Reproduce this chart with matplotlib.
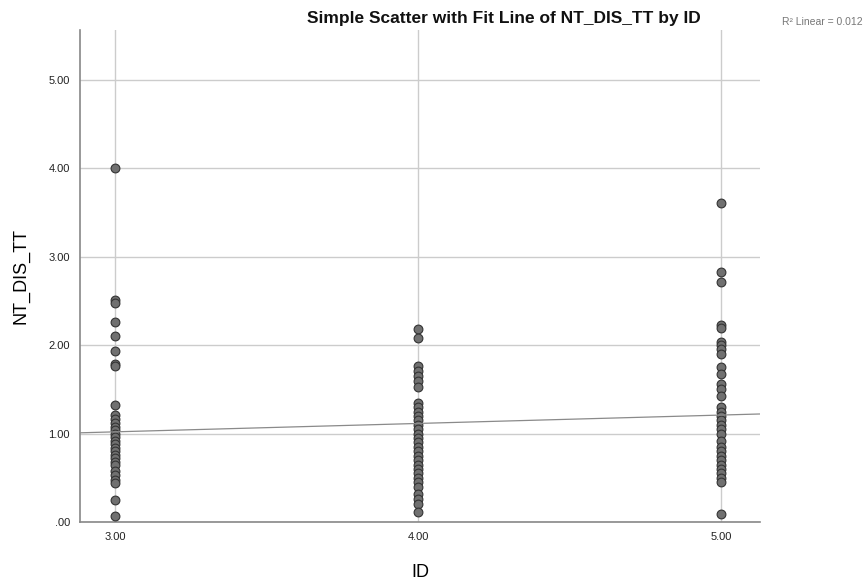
import numpy as np
import matplotlib
matplotlib.use('Agg')
import matplotlib.pyplot as plt

plt.rcParams['font.family'] = ['Liberation Sans', 'DejaVu Sans']

# NT_DIS_TT values for each ID group
id3 = [4.01, 2.51, 2.48, 2.26, 2.10, 1.94, 1.79, 1.77, 1.32, 1.21, 1.17, 1.12,
       1.08, 1.04, 1.00, 0.96, 0.92, 0.88, 0.84, 0.80, 0.76, 0.72, 0.68, 0.64,
       0.58, 0.53, 0.48, 0.44, 0.25, 0.07]
id4 = [2.18, 2.08, 1.76, 1.71, 1.65, 1.60, 1.53, 1.35, 1.30, 1.25, 1.20, 1.15,
       1.10, 1.05, 1.00, 0.95, 0.90, 0.85, 0.80, 0.75, 0.70, 0.65, 0.60, 0.55,
       0.50, 0.45, 0.40, 0.32, 0.26, 0.20, 0.11]
id5 = [3.61, 2.83, 2.71, 2.23, 2.19, 2.04, 2.00, 1.96, 1.90, 1.75, 1.68, 1.56,
       1.50, 1.43, 1.30, 1.25, 1.20, 1.15, 1.10, 1.05, 1.00, 0.92, 0.85, 0.80,
       0.75, 0.70, 0.65, 0.60, 0.55, 0.50, 0.45, 0.09]

# linear fit line (intercept at ID=0, slope)
fit_intercept = 0.735
fit_slope = 0.095
r2_text = 'R\u00b2 Linear = 0.012'

x = np.concatenate([np.full(len(id3), 3.0), np.full(len(id4), 4.0), np.full(len(id5), 5.0)])
y = np.array(id3 + id4 + id5)

fig = plt.figure(figsize=(8.67, 5.83), dpi=100)
ax = fig.add_axes([0.092, 0.1046, 0.785, 0.844])

xlim = (2.884, 5.129)
ax.set_xlim(*xlim)
ax.set_ylim(0, 5.566)

ax.set_xticks([3, 4, 5])
ax.set_xticklabels(['3.00', '4.00', '5.00'])
ax.set_yticks([0, 1, 2, 3, 4, 5])
ax.set_yticklabels(['.00', '1.00', '2.00', '3.00', '4.00', '5.00'])
ax.tick_params(length=0, labelsize=8, colors='#222222', pad=7)

ax.grid(True, color='#cccccc', linewidth=1.0)
ax.set_axisbelow(True)
for s in ['top', 'right']:
    ax.spines[s].set_visible(False)
for s in ['left', 'bottom']:
    ax.spines[s].set_color('#888888')
    ax.spines[s].set_linewidth(1.2)

ax.scatter(x, y, s=40, facecolor='#707070', edgecolor='#333333', linewidth=0.8, zorder=3)

xs = np.array(xlim)
ax.plot(xs, fit_intercept + fit_slope * xs, color='#8a8a8a', linewidth=0.9, zorder=4)

ax.set_xlabel('ID', fontsize=13, labelpad=16)
ax.set_ylabel('NT_DIS_TT', fontsize=13, labelpad=14)

fig.text(0.581, 0.968, 'Simple Scatter with Fit Line of NT_DIS_TT by ID',
         ha='center', va='center', fontsize=12.5, fontweight='bold', color='#111111')
fig.text(0.995, 0.963, r2_text, ha='right', va='center', fontsize=7.5, color='#777777')

fig.savefig('out.png', dpi=100)
